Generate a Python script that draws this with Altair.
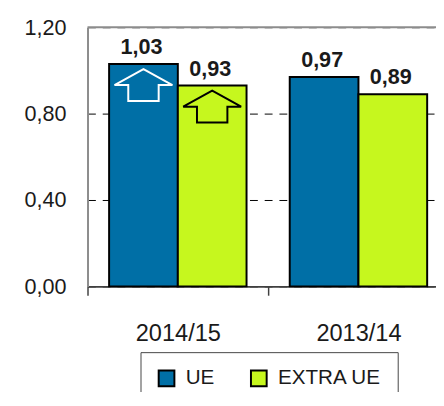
import altair as alt
import pandas as pd

# ---- data -------------------------------------------------------------
periods = ["2014/15", "2014/15", "2013/14", "2013/14"]
series = ["UE", "EXTRA UE", "UE", "EXTRA UE"]
values = [1.03, 0.93, 0.97, 0.89]
value_labels = ["1,03", "0,93", "0,97", "0,89"]
arrow_up = [True, True, False, False]

period_order = ["2014/15", "2013/14"]
series_order = ["UE", "EXTRA UE"]
series_colors = ["#006FA6", "#C6F71E"]
y_ticks = [0.0, 0.4, 0.8, 1.2]

FONT = "Liberation Sans"
TXT = "#1a1a1a"

# ---- geometry (style) --------------------------------------------------
PLOT_W = 355          # visible part of the plot area (it runs off the right edge)
STEP_PX = 184         # width of one category band
BAR_PX = 70           # width of one bar
BW = BAR_PX / STEP_PX  # bar width in band units

df = pd.DataFrame({
    "period": periods,
    "series": series,
    "value": values,
    "label": value_labels,
    "arrow": arrow_up,
})

UP_ARROW = "M0,-0.55 L1,0 L0.525,0 L0.525,0.55 L-0.525,0.55 L-0.525,0 L-1,0 Z"

x_scale = alt.Scale(domain=[0, PLOT_W / STEP_PX], nice=False, zero=False, padding=0)
x_axis = alt.Axis(
    title=None, values=list(range(len(period_order))), grid=False,
    ticks=True, tickSize=9, tickColor="#404040", tickWidth=1.5,
    labelExpr=f"{period_order}[datum.value]", labelOffset=STEP_PX / 2,
    labelFlush=False, labelAngle=0, labelFontSize=24, labelFont=FONT,
    labelColor=TXT, labelPadding=27, domainColor="#404040", domainWidth=2,
)
y_scale = alt.Scale(domain=[0, 1.2], nice=False, zero=True, padding=0)
y_axis = alt.Axis(
    title=None, values=y_ticks, ticks=False, tickSize=0,
    labelExpr="replace(format(datum.value, '.2f'), '.', ',')",
    labelFontSize=22, labelFont=FONT, labelColor=TXT, labelPadding=22,
    grid=True, gridDash=[8, 7], gridColor="black", gridWidth=1,
    domainColor="#8c8c8c", domainWidth=2,
)
y_enc = alt.Y("value:Q", scale=y_scale, axis=y_axis)

base = alt.Chart(df).transform_calculate(
    gi=f"indexof({period_order}, datum.period)",
    si=f"indexof({series_order}, datum.series)",
).transform_calculate(
    x0=f"datum.gi + 0.5 + (datum.si - 1) * {BW}",
).transform_calculate(
    x1=f"datum.x0 + {BW}",
    xc=f"datum.x0 + {BW / 2}",
)

bars = base.mark_bar(stroke="black", strokeWidth=2, orient="vertical").encode(
    x=alt.X("x0:Q", scale=x_scale, axis=x_axis),
    x2="x1:Q",
    y=y_enc,
    y2=alt.datum(0),
    color=alt.Color(
        "series:N", sort=series_order,
        scale=alt.Scale(domain=series_order, range=series_colors),
        legend=alt.Legend(
            title=None, orient="none", legendX=54, legendY=331, direction="horizontal",
            strokeColor="#444", fillColor="white", padding=16,
            symbolType="square", symbolSize=256, symbolStrokeColor="black",
            symbolStrokeWidth=2, symbolOpacity=1,
            labelFontSize=21, labelFont=FONT, labelColor=TXT, labelOffset=9,
            columnPadding=32,
        ),
    ),
)

texts = base.mark_text(
    baseline="alphabetic", dy=-10, dx=-2, fontSize=22, fontWeight="bold",
    font=FONT, color=TXT,
).encode(x=alt.X("xc:Q", scale=x_scale, axis=x_axis), y=y_enc, text="label:N")


def arrow_layer(name, colour):
    return base.transform_filter(
        alt.datum.arrow & (alt.datum.series == name)
    ).mark_point(
        shape=UP_ARROW, size=3481, filled=False, strokeWidth=2, opacity=1,
        yOffset=21.5, stroke=colour,
    ).encode(x=alt.X("xc:Q", scale=x_scale, axis=x_axis), y=y_enc)


arrows_ue = arrow_layer("UE", "white")
arrows_extra = arrow_layer("EXTRA UE", "black")

top_border = alt.Chart(pd.DataFrame({"period": period_order[:1]})).mark_rule(
    color="#8c8c8c", strokeWidth=2
).encode(x=alt.value(0), x2=alt.value(PLOT_W), y=alt.value(0))

chart = alt.layer(bars, arrows_ue, arrows_extra, texts, top_border).properties(
    width=PLOT_W, height=264,
    padding={"left": 81, "top": 16, "right": 0, "bottom": 104},
    autosize=alt.AutoSizeParams(type="none"),
    background="white",
).configure_view(stroke=None)

chart.save("out.html", embed_options={"renderer": "svg", "actions": False})
